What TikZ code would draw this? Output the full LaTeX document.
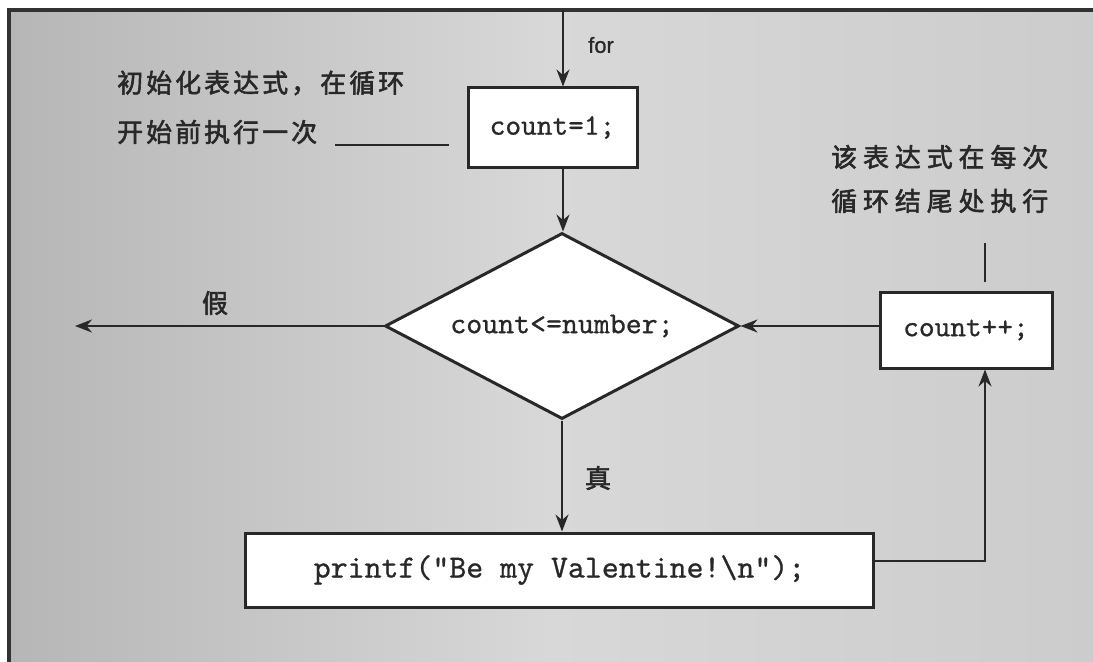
\documentclass[tikz,border=0pt]{standalone}
\usepackage{fontspec}
\setmainfont{Liberation Serif}
\setmonofont{lmmono10-regular}[Extension=.otf,FakeBold=0.7]
\newfontfamily\cjk[LetterSpace=12,FakeBold=2.2]{Noto Sans CJK SC}
\newfontfamily\cjkwide[LetterSpace=23,FakeBold=2.2]{Noto Sans CJK SC}
\newfontfamily\cjkplain[FakeBold=2.2]{Noto Sans CJK SC}
\newfontfamily\forfont[FakeBold=0.8]{Liberation Sans}
\usetikzlibrary{shapes.geometric,arrows.meta}
\definecolor{bgleft}{RGB}{182,182,182}
\definecolor{bgmid}{RGB}{216,216,216}
\definecolor{bgright}{RGB}{204,204,204}
\definecolor{frame}{RGB}{50,50,50}
\definecolor{ink}{RGB}{40,40,40}
\tikzset{
  codebox/.style={draw=ink, line width=3bp, fill=white, inner sep=0pt, font=\ttfamily\fontsize{30}{34}\selectfont, text=ink},
  decision/.style={diamond, aspect=1.9, draw=ink, line width=3bp, fill=white, inner sep=0pt, minimum width=354bp, minimum height=186bp, font=\ttfamily\fontsize{30.5}{34}\selectfont, text=ink},
  arr/.style={draw=ink, line width=2bp, -{Stealth[length=17bp,width=13bp]}},
  plainline/.style={draw=ink, line width=1.5bp},
  note/.style={font=\cjk\fontsize{26}{30}\selectfont, text=ink, inner sep=0pt, anchor=west},
  notewide/.style={font=\cjkwide\fontsize{26}{30}\selectfont, text=ink, inner sep=0pt, anchor=west},
  label/.style={font=\cjkplain\fontsize{26}{30}\selectfont, text=ink, inner sep=0pt}
}
\begin{document}
\begin{tikzpicture}[x=1bp,y=-1bp]
\useasboundingbox (0,0) rectangle (1093,662);
\fill[white] (0,0) rectangle (1093,662);
\shade[left color=bgleft, right color=bgright, middle color=bgmid] (9,10) rectangle (1093,662);
\draw[frame, line width=4bp] (9,662) -- (9,10) -- (1093,10);

% nodes
\node[codebox, minimum width=169bp, minimum height=79bp] (c1) at (552.5,127.5) {count=1;};
\node[decision] (d) at (562,326) {count<=number;};
\node[codebox, minimum width=172bp, minimum height=76bp] (cpp) at (966,330) {count++;};
\node[codebox, minimum width=627bp, minimum height=74bp, font=\ttfamily\fontsize{32.4}{36}\selectfont] (pf) at (559.5,570) {printf("Be my Valentine!\textbackslash n");};

\node[note] (n1a) at (117,83) {初始化表达式，在循环};
\node[note] (n1b) at (117,132) {开始前执行一次};
\node[notewide] (n2a) at (831,157) {该表达式在每次};
\node[notewide] (n2b) at (831,201) {循环结尾处执行};

\node[font=\forfont\fontsize{22}{26}\selectfont, text=ink, inner sep=0pt] (forl) at (601,45) {for};
\node[label] (jia) at (215,303) {假};
\node[label] (zhen) at (598,478) {真};

\coordinate (start) at (563,10);
\coordinate (exit) at (75,326);
\coordinate (turn) at (985,561);
\coordinate (n1end) at (335,145);
\coordinate (n2end) at (985,243);

% connectors
\draw[arr] (start) -- (start |- c1.north);
\draw[arr] (start |- c1.south) -- (start |- d.north);
\draw[arr] (d.west) -- (exit);
\draw[arr] (d.south) -- (d.south |- pf.north);
\draw[arr] (turn -| pf.east) -- (turn) -- (turn |- cpp.south);
\draw[arr] (cpp.west |- d.east) -- (d.east);
\draw[plainline] (n1end) -- ([xshift=-18bp]n1end -| c1.west);
\draw[plainline] (n2end) -- ([yshift=9bp]n2end |- cpp.north);
\end{tikzpicture}
\end{document}
